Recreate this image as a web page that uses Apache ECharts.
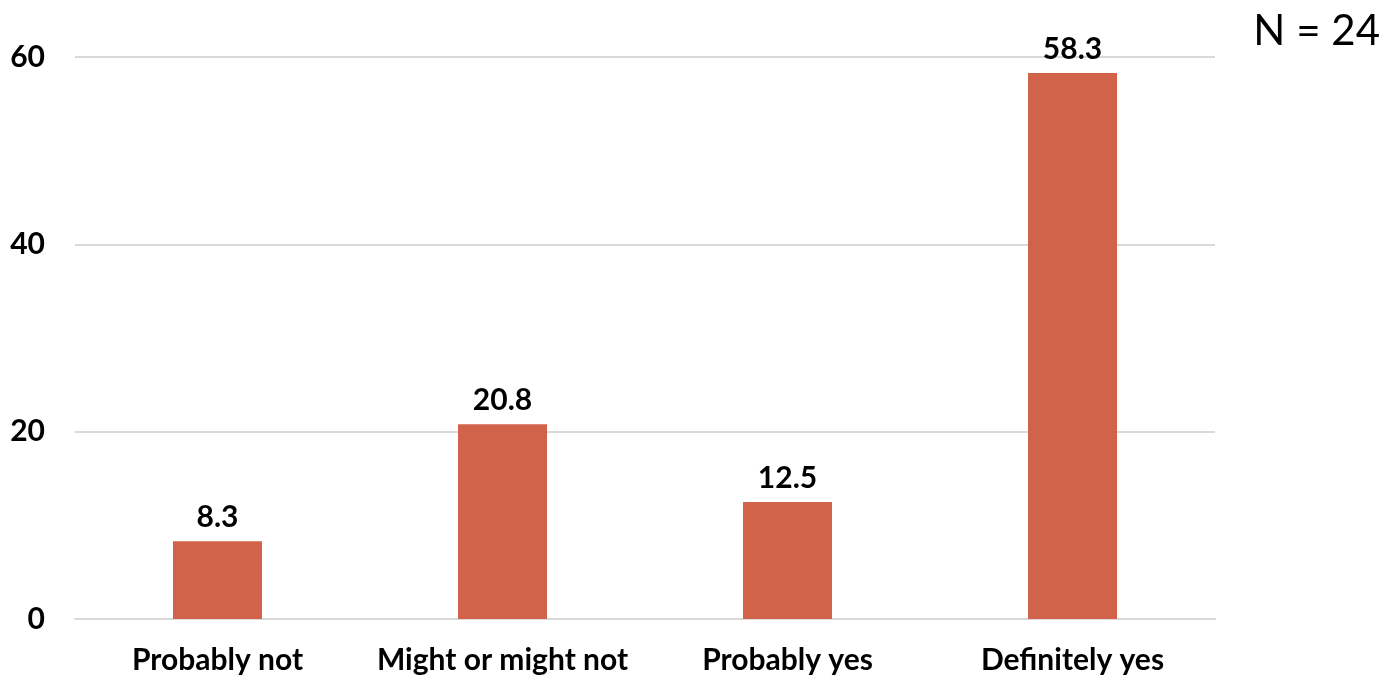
<!DOCTYPE html>
<html>
<head>
<meta charset="utf-8">
<script src="https://cdn.jsdelivr.net/npm/echarts@6/dist/echarts.min.js"></script>
<style>
  html, body { margin: 0; padding: 0; background: #ffffff; }
  #chart { width: 1385px; height: 675px; }
</style>
</head>
<body>
<div id="chart"></div>
<script>
// Survey responses (percent of respondents)
const categories = ['Probably not', 'Might or might not', 'Probably yes', 'Definitely yes'];
const percents = [8.3, 20.8, 12.5, 58.3];
const yTicks = [0, 20, 40, 60];
const sampleNote = 'N = 24';

const FONT = 'Lato, "Open Sans", sans-serif';

const chart = echarts.init(document.getElementById('chart'), null, { renderer: 'canvas' });

chart.setOption({
  animation: false,
  backgroundColor: '#ffffff',
  grid: { left: 75, right: 170, top: 57, bottom: 56, containLabel: false },
  xAxis: {
    type: 'category',
    data: categories,
    axisLine: { show: true, lineStyle: { color: '#d9d9d9', width: 2 } },
    axisTick: { show: false },
    axisLabel: {
      color: '#000000', fontFamily: FONT, fontWeight: 'bold', fontSize: 30,
      margin: 26, interval: 0
    }
  },
  yAxis: {
    type: 'value',
    min: yTicks[0],
    max: yTicks[yTicks.length - 1],
    interval: yTicks[1] - yTicks[0],
    axisLine: { show: false },
    axisTick: { show: false },
    splitLine: { lineStyle: { color: '#d9d9d9', width: 2 } },
    axisLabel: {
      color: '#000000', fontFamily: FONT, fontWeight: 'bold', fontSize: 30,
      margin: 30
    }
  },
  series: [{
    type: 'bar',
    data: percents,
    barWidth: 89,
    itemStyle: { color: '#d0634a' },
    label: {
      show: true, position: 'top', distance: 9,
      color: '#000000', fontFamily: FONT, fontWeight: 'bold', fontSize: 30,
      formatter: p => p.value.toFixed(1)
    }
  }],
  graphic: [{
    type: 'text',
    right: 5,
    top: 10,
    style: {
      text: sampleNote,
      fill: '#000000',
      font: '42px ' + FONT
    }
  }]
});
</script>
</body>
</html>
